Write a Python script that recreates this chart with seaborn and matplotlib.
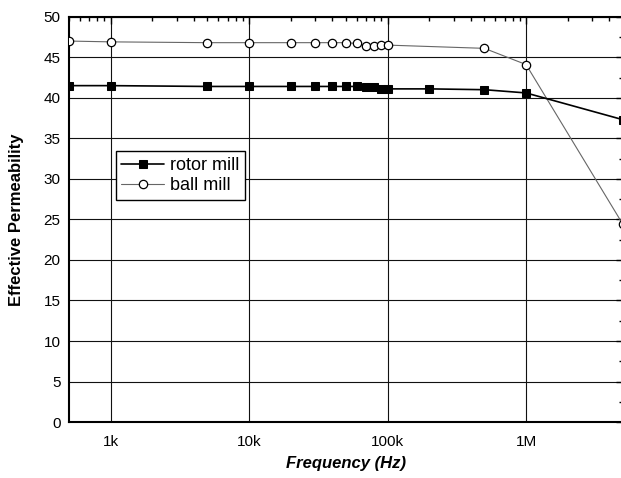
import matplotlib
matplotlib.use("Agg")
import matplotlib.pyplot as plt
import seaborn as sns
import numpy as np
import pandas as pd
from matplotlib.ticker import FixedLocator, LogLocator, NullFormatter, MultipleLocator

freq = [500, 1e3, 5e3, 1e4, 2e4, 3e4, 4e4, 5e4, 6e4, 7e4, 8e4, 9e4, 1e5, 2e5, 5e5, 1e6, 5e6]
rotor_mill = [41.5, 41.5, 41.4, 41.4, 41.4, 41.4, 41.4, 41.4, 41.4, 41.3, 41.3, 41.1, 41.1, 41.1, 41.0, 40.6, 37.3]
ball_freq = [500, 1e3, 5e3, 1e4, 2e4, 3e4, 4e4, 5e4, 6e4, 7e4, 8e4, 9e4, 1e5, 5e5, 1e6, 5e6]
ball_mill = [47.0, 46.9, 46.8, 46.8, 46.8, 46.8, 46.8, 46.8, 46.7, 46.4, 46.4, 46.5, 46.5, 46.1, 44.1, 24.4]

xticks = [1e3, 1e4, 1e5, 1e6]
xticklabels = ["1k", "10k", "100k", "1M"]
yticks = list(range(0, 51, 5))

sns.set_theme(style="white")
plt.rcParams['font.family'] = ['Liberation Sans', 'DejaVu Sans']
plt.rcParams['text.color'] = 'black'
plt.rcParams['axes.labelcolor'] = 'black'

fig = plt.figure(figsize=(6.21, 4.78), dpi=100)
ax = fig.add_axes([0.111, 0.117, 0.892, 0.848])

df_r = pd.DataFrame({"f": freq, "mu": rotor_mill})
df_b = pd.DataFrame({"f": ball_freq, "mu": ball_mill})

sns.lineplot(data=df_r, x="f", y="mu", ax=ax, color="black", lw=1.2,
             marker="s", markersize=6, markerfacecolor="black",
             markeredgecolor="black", label="rotor mill", zorder=4)
sns.lineplot(data=df_b, x="f", y="mu", ax=ax, color="#666666", lw=0.8,
             marker="o", markersize=6, markerfacecolor="white",
             markeredgecolor="black", markeredgewidth=0.9, label="ball mill", zorder=3)

ax.set_xscale("log")
ax.set_xlim(500, 5e6)
ax.set_ylim(0, 50)
ax.xaxis.set_major_locator(FixedLocator(xticks))
ax.set_xticklabels(xticklabels)
ax.xaxis.set_minor_locator(LogLocator(base=10, subs=np.arange(2, 10)))
ax.xaxis.set_minor_formatter(NullFormatter())
ax.set_yticks(yticks)
ax.yaxis.set_minor_locator(MultipleLocator(2.5))

ax.grid(True, which="major", color="#111111", lw=0.8, ls="-")
ax.set_axisbelow(True)

for s in ax.spines.values():
    s.set_color("black")
    s.set_linewidth(1.5)

ax.tick_params(axis="both", which="major", direction="in", length=5, width=1,
               top=True, right=True, labelsize=11, colors="black", pad=6)
ax.tick_params(axis="both", which="minor", direction="in", length=3, width=1,
               top=True, right=True, colors="black")
ax.tick_params(axis="x", which="major", pad=9)

ax.set_xlabel("Frequency (Hz)", fontsize=12, fontweight="bold", style="italic", labelpad=5, color="black")
ax.set_ylabel("Effective Permeability", fontsize=12, fontweight="bold", labelpad=14, color="black")

leg = ax.legend(loc="upper left", bbox_to_anchor=(0.068, 0.69), fontsize=13,
                frameon=True, fancybox=False, edgecolor="black", framealpha=1,
                handlelength=2.4, borderpad=0.3, labelspacing=0.2, handletextpad=0.3)
leg.get_frame().set_linewidth(1.0)
for t in leg.get_texts():
    t.set_color("black")

fig.savefig("out.png", dpi=100)
